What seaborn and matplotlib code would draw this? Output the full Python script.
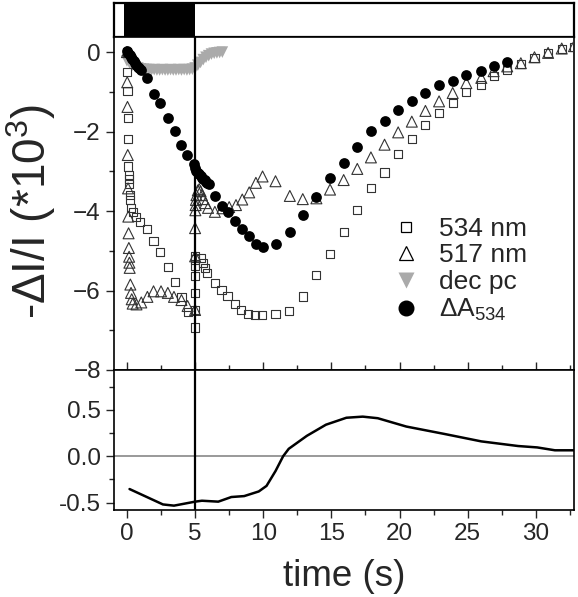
import numpy as np
import pandas as pd
import matplotlib
matplotlib.use("Agg")
import matplotlib.pyplot as plt
import seaborn as sns
from matplotlib.lines import Line2D
from matplotlib.ticker import MultipleLocator

# 534 nm (open squares)
t_534 = [0.0, 0.02, 0.04, 0.06, 0.08, 0.1, 0.12, 0.14, 0.17, 0.2, 0.25, 0.3, 0.42, 0.66, 0.95,
         1.5, 1.95, 2.45, 2.98, 3.5, 4.0, 4.45, 5.0,
         5.0, 5.0, 5.0, 5.0, 5.0, 5.0, 5.4, 5.6, 5.72, 5.9, 6.45, 6.94, 7.38,
         7.9, 8.4, 8.9, 9.4, 9.9, 10.9, 11.9, 12.9, 13.9, 14.9, 15.9, 16.9, 17.9,
         18.9, 19.9, 20.9, 21.9, 22.9, 23.9, 24.9, 26.0, 26.9, 27.9, 28.9, 29.9,
         30.9, 31.9, 32.8]
v_534 = [0.0, -0.5, -0.97, -1.66, -2.18, -2.88, -3.09, -3.2, -3.32, -3.6, -3.72, -3.92, -4.02,
         -4.15, -4.28, -4.45, -4.76, -5.04, -5.4, -5.78, -6.16, -6.53, -6.93,
         -6.48, -6.06, -5.64, -5.39, -5.22, -5.14, -5.18, -5.31, -5.43, -5.56, -5.81, -5.98, -6.14,
         -6.35, -6.5, -6.6, -6.62, -6.62, -6.6, -6.52, -6.15, -5.62, -5.07, -4.52, -3.98, -3.42,
         -3.03, -2.56, -2.18, -1.83, -1.53, -1.28, -1.0, -0.82, -0.61, -0.44, -0.3, -0.15,
         -0.03, 0.07, 0.12]

# 517 nm (open triangles)
t_517 = [0.0, 0.02, 0.04, 0.06, 0.08, 0.1, 0.12, 0.14, 0.16, 0.18, 0.2, 0.25, 0.3, 0.35, 0.42,
         0.7, 1.05, 1.5, 1.95, 2.5, 3.0, 3.45, 4.0, 4.45, 5.0,
         5.0, 5.0, 5.02, 5.04, 5.06, 5.1, 5.2, 5.3, 5.4, 5.5, 5.6, 5.75, 5.95, 6.45,
         7.0, 7.5, 8.0, 8.46, 8.97, 9.46, 9.95, 10.9, 11.95, 12.9, 13.9, 14.9, 15.9,
         16.9, 17.9, 18.9, 19.9, 20.9, 21.9, 22.9, 23.9, 24.9, 26.0, 26.9, 27.9, 28.9,
         29.9, 30.9, 31.9, 32.8]
v_517 = [0.0, -0.76, -1.38, -2.59, -3.43, -4.14, -4.56, -4.93, -5.15, -5.3, -5.43, -5.85, -6.06,
         -6.22, -6.33, -6.35, -6.3, -6.16, -6.02, -6.02, -6.06, -6.16, -6.24, -6.39, -6.49,
         -5.14, -4.43, -3.98, -3.85, -3.72, -3.6, -3.48, -3.45, -3.5, -3.6, -3.7, -3.8, -3.92, -4.02,
         -3.93, -3.9, -3.85, -3.71, -3.53, -3.29, -3.13, -3.25, -3.62, -3.7, -3.68, -3.46, -3.22,
         -2.94, -2.65, -2.33, -2.02, -1.75, -1.48, -1.24, -1.03, -0.78, -0.65, -0.48, -0.36, -0.28,
         -0.13, -0.02, 0.09, 0.15]

# dec pc (grey filled down triangles)
t_dec = [0.0, 0.2, 0.4, 0.6, 0.8, 1.0, 1.2, 1.4, 1.6, 1.8, 2.0, 2.2, 2.4, 2.6, 2.8, 3.0, 3.2,
         3.4, 3.6, 3.8, 4.0, 4.2, 4.4, 4.6, 4.8, 5.0, 5.2, 5.4, 5.6, 5.8, 6.0, 6.2, 6.4,
         6.6, 6.8, 7.0]
v_dec = [-0.22, -0.28, -0.33, -0.37, -0.4, -0.42, -0.43, -0.44, -0.44, -0.45, -0.44, -0.45,
         -0.45, -0.44, -0.45, -0.45, -0.44, -0.45, -0.45, -0.44, -0.45, -0.44, -0.45, -0.44,
         -0.43, -0.4, -0.33, -0.26, -0.19, -0.13, -0.09, -0.05, -0.03, -0.02, -0.01, 0.0]

# delta A 534 (black filled circles)
t_dA = [0.0, 0.1, 0.2, 0.3, 0.4, 0.5, 0.6, 0.7, 0.8, 0.9, 1.0, 1.5, 2.0, 2.45, 3.0, 3.5, 3.95,
        4.42, 4.9, 5.0, 5.1, 5.2, 5.3, 5.4, 5.5, 5.6, 5.7, 5.8, 5.9, 6.0, 6.45, 6.95, 7.45,
        7.95, 8.45, 8.95, 9.45, 9.95, 10.9, 11.95, 12.9, 13.9, 14.9, 15.9, 16.9, 17.9, 18.9,
        19.9, 20.9, 21.9, 22.9, 23.9, 24.9, 26.0, 26.9, 27.9]
v_dA = [0.02, -0.02, -0.07, -0.12, -0.17, -0.22, -0.27, -0.32, -0.37, -0.41, -0.45, -0.66,
        -1.06, -1.29, -1.65, -1.99, -2.33, -2.6, -2.82, -2.92, -2.98, -3.03, -3.08, -3.12,
        -3.16, -3.2, -3.23, -3.26, -3.29, -3.33, -3.62, -3.87, -4.02, -4.24, -4.45, -4.64,
        -4.83, -4.91, -4.83, -4.52, -4.1, -3.64, -3.18, -2.78, -2.39, -1.99, -1.74, -1.45,
        -1.23, -1.03, -0.84, -0.72, -0.58, -0.47, -0.34, -0.26]

# lower panel trace
t_low = [0.19, 2.64, 3.45, 5.0, 5.5, 6.7, 7.66, 8.6, 9.67, 10.24, 10.9, 11.46, 11.87, 13.2,
         14.6, 16.1, 17.3, 18.4, 20.5, 23.3, 26.0, 28.7, 30.1, 31.4, 32.8]
v_low = [-0.354, -0.52, -0.533, -0.49, -0.48, -0.49, -0.44, -0.43, -0.38, -0.32, -0.16, 0.0,
         0.08, 0.22, 0.34, 0.415, 0.427, 0.41, 0.32, 0.24, 0.16, 0.11, 0.095, 0.064, 0.064]

light_on = (-0.2, 5.0)

sns.set_style("ticks")
plt.rcParams['font.family'] = ['Liberation Sans', 'DejaVu Sans']
plt.rcParams['mathtext.fontset'] = 'custom'
plt.rcParams['mathtext.rm'] = 'Liberation Sans'
plt.rcParams['mathtext.it'] = 'Liberation Sans:italic'

W, H = 578, 597
fig = plt.figure(figsize=(W / 100, H / 100), dpi=100)


def box(x0, y0, x1, y1):
    return [x0 / W, 1 - y1 / H, (x1 - x0) / W, (y1 - y0) / H]


ax_bar = fig.add_axes(box(114, 3, 574, 37))
ax = fig.add_axes(box(114, 37, 574, 370))
ax_low = fig.add_axes(box(114, 370, 574, 510))

xlim = (-0.95, 32.8)

# light bar
ax_bar.axvspan(light_on[0], light_on[1], color='black', lw=0)
ax_bar.set_xlim(xlim)
ax_bar.set_ylim(0, 1)
ax_bar.set_xticks([])
ax_bar.set_yticks([])
for s in ax_bar.spines.values():
    s.set_linewidth(1.6)
    s.set_color('black')

# main panel
df534 = pd.DataFrame({'t': t_534, 'v': v_534})
df517 = pd.DataFrame({'t': t_517, 'v': v_517})
dfdec = pd.DataFrame({'t': t_dec, 'v': v_dec})
dfdA = pd.DataFrame({'t': t_dA, 'v': v_dA})

sns.scatterplot(data=dfdec, x='t', y='v', marker='v', s=70, facecolor='#aaaaaa',
                edgecolor='none', linewidth=0, ax=ax, zorder=2)
sns.scatterplot(data=df534, x='t', y='v', marker='s', s=34, facecolor='none',
                edgecolor='#333333', linewidth=0.8, ax=ax, zorder=3)
sns.scatterplot(data=df517, x='t', y='v', marker='^', s=62, facecolor='none',
                edgecolor='#333333', linewidth=0.8, ax=ax, zorder=3)
sns.scatterplot(data=dfdA, x='t', y='v', marker='o', s=60, facecolor='black',
                edgecolor='black', linewidth=0, ax=ax, zorder=4)

ax.axvline(5, color='black', lw=1.6, zorder=5)
ax.set_xlim(xlim)
ax.set_ylim(-8, 0.38)
ax.set_yticks([0, -2, -4, -6, -8])
ax.yaxis.set_minor_locator(MultipleLocator(1))
ax.xaxis.set_major_locator(MultipleLocator(5))
ax.xaxis.set_minor_locator(MultipleLocator(2.5))
ax.tick_params(axis='y', which='major', direction='out', length=6, width=1, labelsize=17.5)
ax.tick_params(axis='y', which='minor', direction='out', length=3.5, width=1)
ax.tick_params(axis='x', which='major', direction='in', length=6, width=1, labelbottom=False)
ax.tick_params(axis='x', which='minor', direction='in', length=3.5, width=1)
ax.set_xlabel('')
ax.set_ylabel('')
for s in ax.spines.values():
    s.set_linewidth(1.2)
    s.set_color('black')

handles = [
    Line2D([], [], ls='none', marker='s', ms=7.5, mfc='none', mec='black', mew=0.9),
    Line2D([], [], ls='none', marker='^', ms=10, mfc='none', mec='black', mew=0.9),
    Line2D([], [], ls='none', marker='v', ms=12, mfc='#aaaaaa', mec='none'),
    Line2D([], [], ls='none', marker='o', ms=10.5, mfc='black', mec='black'),
]
labels = ['534 nm', '517 nm', 'dec pc', r'$\Delta$A$_{534}$']
ax.legend(handles, labels, loc='lower right', bbox_to_anchor=(0.95, 0.07), frameon=False,
          fontsize=19, handletextpad=0.65, labelspacing=0.1, handlelength=1.2)

# lower panel
dflow = pd.DataFrame({'t': t_low, 'v': v_low})
ax_low.axhline(0, color='#888888', lw=1.2, zorder=1)
sns.lineplot(data=dflow, x='t', y='v', color='black', lw=1.8, sort=False, ax=ax_low, zorder=3)
ax_low.axvline(5, color='black', lw=1.6, zorder=5)
ax_low.set_xlim(xlim)
ax_low.set_ylim(-0.58, 0.93)
ax_low.set_yticks([-0.5, 0.0, 0.5])
ax_low.set_yticklabels(['-0.5', '0.0', '0.5'])
ax_low.yaxis.set_minor_locator(MultipleLocator(0.25))
ax_low.set_xticks([0, 5, 10, 15, 20, 25, 30])
ax_low.xaxis.set_minor_locator(MultipleLocator(2.5))
ax_low.tick_params(axis='both', which='major', direction='out', length=6, width=1, labelsize=17.5)
ax_low.tick_params(axis='both', which='minor', direction='out', length=3.5, width=1)
ax_low.set_xlabel('time (s)', fontsize=26.5, labelpad=10)
ax_low.set_ylabel('')
for s in ax_low.spines.values():
    s.set_linewidth(1.2)
    s.set_color('black')

fig.text(31 / W, 1 - 212 / H, r'-$\Delta$I/I (*10$^3$)', rotation=90, fontsize=33,
         ha='center', va='center')

fig.savefig('out.png', dpi=100)
